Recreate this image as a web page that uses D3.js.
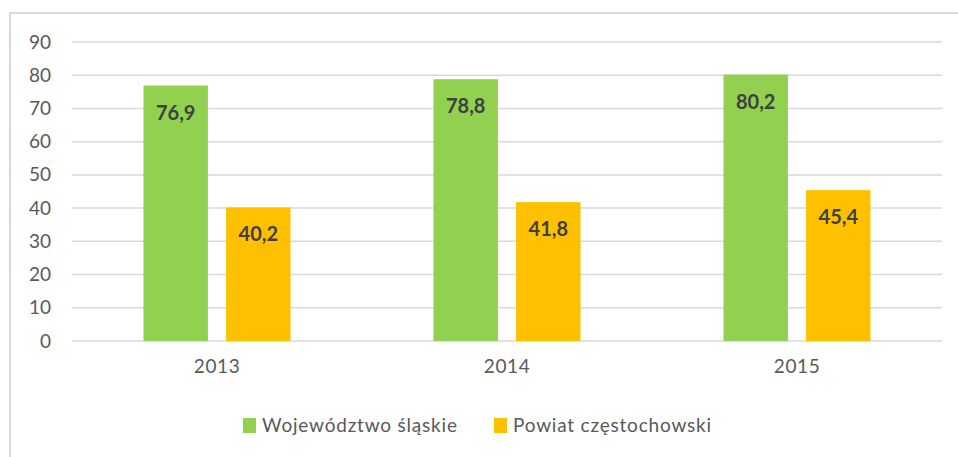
<!DOCTYPE html>
<html>
<head>
<meta charset="utf-8">
<script src="https://cdn.jsdelivr.net/npm/d3@7"></script>
<style>
  body { margin: 0; background: #fff; }
  svg { display: block; font-family: Lato, "Open Sans", sans-serif; }
</style>
</head>
<body>
<svg></svg>
<script>
let svg = d3.select("svg");
const width = 958;
const height = 457;
let margin = {top: 42, bottom: 116, right: 16, left: 72};

// data
const years = ["2013", "2014", "2015"];
const seriesNames = ["Województwo śląskie", "Powiat częstochowski"];
const slaskie = [76.9, 78.8, 80.2];
const czestochowski = [40.2, 41.8, 45.4];
const yTicks = [0, 10, 20, 30, 40, 50, 60, 70, 80, 90];
const colors = ["#92D050", "#FFC000"];

svg.attr("width", width).attr("height", height);

// frame
svg.append("rect")
  .attr("x", 10).attr("y", 13)
  .attr("width", width + 10).attr("height", height + 10)
  .attr("fill", "none")
  .attr("stroke", "#d9d9d9")
  .attr("stroke-width", 2);

// scales
let xScale = d3.scaleBand().domain(years)
  .range([margin.left, width - margin.right]);
let groupWidth = 147;
let groupOffset = (xScale.bandwidth() - groupWidth) / 2;
let groupScale = d3.scaleBand().domain([0, 1])
  .range([groupOffset, groupOffset + groupWidth])
  .paddingInner(0.22);
let yScale = d3.scaleLinear().domain([0, 90])
  .range([height - margin.bottom, margin.top]);

// grid
svg.append("g")
  .selectAll("line")
  .data(yTicks)
  .join("line")
    .attr("x1", margin.left)
    .attr("x2", width - margin.right)
    .attr("y1", d => yScale(d))
    .attr("y2", d => yScale(d))
    .attr("stroke", "#d9d9d9")
    .attr("stroke-width", 1.5);

// y axis labels
let yAxis = d3.axisLeft(yScale).tickValues(yTicks).tickSize(0).tickPadding(21);
let yg = svg.append("g")
  .attr("transform", `translate(${margin.left}, 0)`)
  .call(yAxis);
yg.select(".domain").remove();
yg.selectAll("text")
  .attr("fill", "#595959")
  .attr("font-size", 19)
  .attr("font-family", "Lato, sans-serif");

// x axis labels
let xAxis = d3.axisBottom(xScale).tickSize(0).tickPadding(19);
let xg = svg.append("g")
  .attr("transform", `translate(0, ${height - margin.bottom})`)
  .call(xAxis);
xg.select(".domain").remove();
xg.selectAll("text")
  .attr("fill", "#595959")
  .attr("font-size", 19)
  .attr("letter-spacing", 0.6)
  .attr("font-family", "Lato, sans-serif");

// bars
let rows = years.map((y, i) => ({year: y, values: [slaskie[i], czestochowski[i]]}));
let groups = svg.append("g")
  .selectAll("g")
  .data(rows)
  .join("g")
    .attr("transform", d => `translate(${xScale(d.year)}, 0)`);

groups.selectAll("rect")
  .data(d => d.values)
  .join("rect")
    .attr("x", (d, i) => groupScale(i))
    .attr("width", groupScale.bandwidth())
    .attr("y", d => yScale(d))
    .attr("height", d => yScale(0) - yScale(d))
    .attr("fill", (d, i) => colors[i]);

groups.selectAll("text")
  .data(d => d.values)
  .join("text")
    .attr("x", (d, i) => groupScale(i) + groupScale.bandwidth() / 2)
    .attr("y", d => yScale(d) + 34)
    .attr("text-anchor", "middle")
    .attr("font-size", 20)
    .attr("font-weight", "bold")
    .attr("fill", "#404040")
    .text(d => d3.format(".1f")(d).replace(".", ","));

// legend
let legendX = [243, 494];
let legend = svg.append("g")
  .selectAll("g")
  .data(seriesNames)
  .join("g")
    .attr("transform", (d, i) => `translate(${legendX[i]}, 418)`);
legend.append("rect")
  .attr("width", 13).attr("height", 15)
  .attr("fill", (d, i) => colors[i]);
legend.append("text")
  .attr("x", 19).attr("y", 14)
  .attr("font-size", 19)
  .attr("letter-spacing", 0.8)
  .attr("fill", "#595959")
  .text(d => d);
</script>
</body>
</html>
